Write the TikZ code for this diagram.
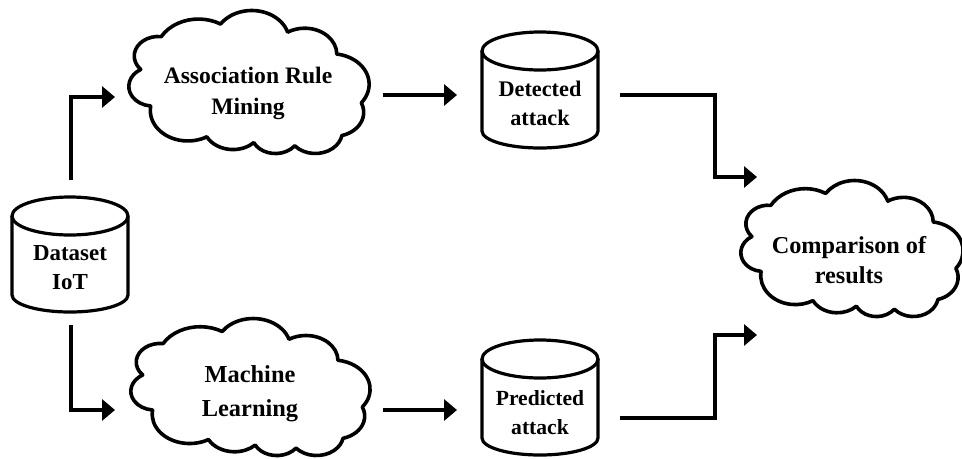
\documentclass[tikz,border=0pt]{standalone}
\usepackage{fontspec}
\setmainfont{Liberation Serif}
\usetikzlibrary{arrows.meta}
\tikzset{
  cloudline/.style={line width=2.7pt, line join=round},
  cylline/.style={line width=2.4pt},
  arr/.style={line width=3.2pt, -{Triangle[length=9.75pt,width=15.75pt]}},
  lbl/.style 2 args={align=center, inner sep=0pt, font=\bfseries\fontsize{#1}{#2}\selectfont}
}
% Office-style cloud, flipped vertically: #1 left, #2 top, #3 width/432, #4 height (px), #5 height/432
\newcommand\mycloud[5]{%
\begin{scope}[shift={(#1,#2+#4)}, xscale=#3, yscale=-#5]
\draw[cloudline] (39,143.7)
 arc[start angle=-187.745, end angle=-59.64, x radius=67.53, y radius=91.90]
 arc[start angle=-152.03, end angle=-45.42, x radius=53.33, y radius=72.67]
 arc[start angle=-153.49, end angle=-37.35, x radius=43.65, y radius=59.45]
 arc[start angle=-139.71, end angle=-10.21, x radius=48.57, y radius=65.95]
 arc[start angle=-74.77, end angle=23.21, x radius=53.33, y radius=72.73]
 arc[start angle=-37.51, end angle=81.86, x radius=67.75, y radius=92.20]
 arc[start angle=0.46, end angle=121.97, x radius=57.85, y radius=78.67]
 arc[start angle=16.84, end angle=146.21, x radius=67.52, y radius=92.15]
 arc[start angle=59.00, end angle=150.19, x radius=77.20, y radius=105.43]
 arc[start angle=-276.69, end angle=-136.93, x radius=43.60, y radius=59.18]
 arc[start angle=-239.65, end angle=-95.89, x radius=43.45, y radius=59.45]
 -- cycle;
\end{scope}}
% cylinder: #1 cx, #2 top, #3 bottom
\newcommand\mycyl[3]{%
\draw[cylline] (#1-58,#2+19) -- (#1-58,#3-17)
  arc[start angle=180, end angle=0, x radius=58, y radius=17] -- (#1+58,#2+19);
\draw[cylline] (#1,#2+19) ellipse[x radius=58, y radius=19];}
\begin{document}
\begin{tikzpicture}[x=0.75pt,y=-0.75pt]
\useasboundingbox (0,0) rectangle (962,458);

% shapes
\mycyl{70}{197}{312}
\mycyl{540}{32}{148}
\mycyl{540}{340}{455}
\mycloud{129}{11}{0.5556}{143}{0.3310}
\mycloud{131}{319}{0.5532}{137}{0.3171}
\mycloud{741}{181}{0.5139}{136}{0.3148}

% labels
\node[lbl={17.2pt}{21.75pt}] (ds) at (70,268) {Dataset\\IoT};
\node[lbl={16.7pt}{21.75pt}] (det) at (540,103) {Detected\\attack};
\node[lbl={16.2pt}{21.75pt}] (pred) at (540,413) {Predicted\\attack};
\node[lbl={17.7pt}{23.25pt}] (arm) at (248,93) {Association Rule\\Mining};
\node[lbl={18.3pt}{25.5pt}] (ml) at (250,394) {Machine\\Learning};
\node[lbl={18.2pt}{22.5pt}] (cmp) at (849,260) {Comparison of\\results};

% connector end points
\coordinate (dsN) at (71,180);
\coordinate (dsS) at (71,325);
\coordinate (armW) at (115,97);
\coordinate (mlW) at (115,410);
\coordinate (armE) at (383,95);
\coordinate (detW) at (457,95);
\coordinate (mlE) at (383,410);
\coordinate (predW) at (457,410);
\coordinate (detE) at (620,95);
\coordinate (predE) at (620,418);
\coordinate (cmpNW) at (757,177);
\coordinate (cmpSW) at (757,335);

% connectors
\draw[arr] (dsN) |- (armW);
\draw[arr] (dsS) |- (mlW);
\draw[arr] (armE) -- (detW);
\draw[arr] (mlE) -- (predW);
\draw[arr] (detE) -- (715,95) |- (cmpNW);
\draw[arr] (predE) -- (715,418) |- (cmpSW);
\end{tikzpicture}
\end{document}
